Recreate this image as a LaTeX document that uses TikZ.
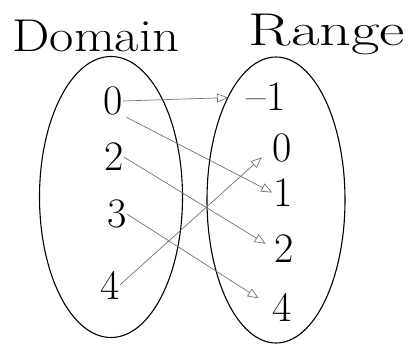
\documentclass[tikz,border=0pt]{standalone}
\usetikzlibrary{arrows.meta}
\begin{document}
\begin{tikzpicture}[x=1pt,y=-1pt,
  num/.style={inner sep=0pt,font=\fontsize{42}{42}\selectfont},
  ttl/.style={inner sep=0pt,font=\fontsize{46}{46}\selectfont},
  setline/.style={draw=black,line width=1.1pt},
  mapto/.style={draw=black!55,line width=0.7pt,-{Triangle[open,length=11pt,width=9pt]}}]
\useasboundingbox (0,0) rectangle (415,346);
% titles
\node[ttl,xscale=1.15] (dom) at (96,36) {Domain};
\node[ttl,xscale=1.35] (rng) at (327,34) {Range};
% sets
\draw[setline] (111,197) ellipse [x radius=71.5, y radius=140.5];
\draw[setline] (276,200) ellipse [x radius=69, y radius=143];
% domain elements
\node[num] (d0) at (113,101) {0};
\node[num] (d2) at (114,157) {2};
\node[num] (d3) at (117,214) {3};
\node[num] (d4) at (110,285) {4};
% range elements
\node[num] (rm1) at (266,97) {--\kern1pt1};
\node[num] (r0) at (282,148) {0};
\node[num] (r1) at (283,193) {1};
\node[num] (r2) at (284,249) {2};
\node[num] (r4) at (282,307) {4};
% mapping
\draw[mapto,shorten >=18pt] (d0.east) -- (rm1.west);
\draw[mapto,shorten <=4pt,shorten >=1pt] (d0.south east) -- (r1.west);
\draw[mapto,shorten >=10pt] (d2.east) -- (r2.west);
\draw[mapto,shorten >=16pt] (d3.east) -- (r4.west);
\draw[mapto,shorten >=14pt] (d4.east) -- (r0.west);
\end{tikzpicture}
\end{document}
